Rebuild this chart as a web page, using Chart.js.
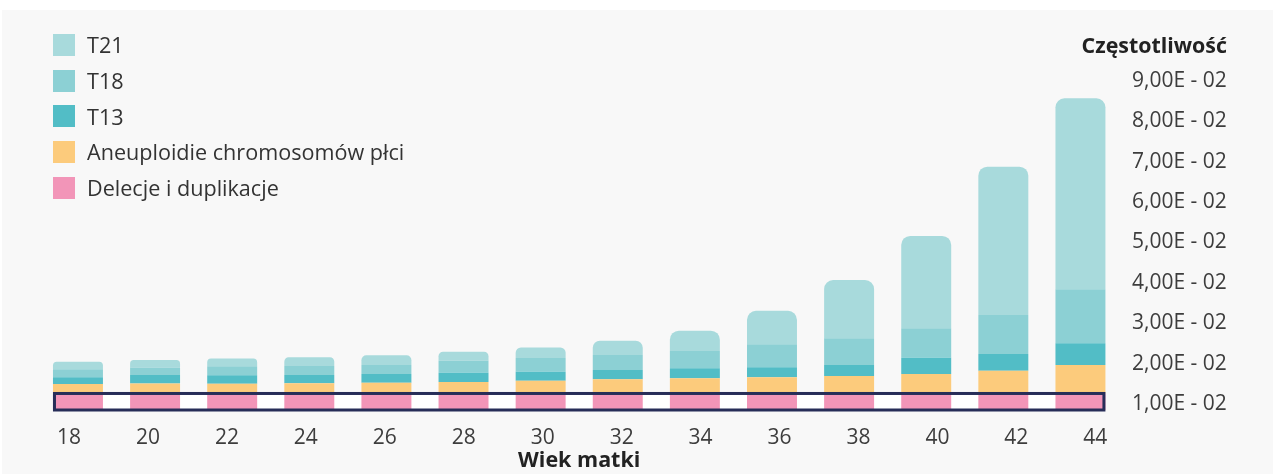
<!DOCTYPE html>
<html lang="pl">
<head>
<meta charset="utf-8">
<title>Częstotliwość a wiek matki</title>
<script src="https://cdn.jsdelivr.net/npm/chart.js@4.4.1/dist/chart.umd.min.js"></script>
<style>
  body { margin: 0; background: #fff; font-family: 'Open Sans', sans-serif; }
  #panel { position: absolute; left: 2px; top: 10px; width: 1271px; height: 464px; background: #f8f8f8; }
  #legend { position: absolute; left: 51px; top: 17px; }
  .item { display: flex; align-items: center; height: 35.7px; font-size: 21.6px; color: #333; }
  .sw { width: 22px; height: 22px; margin-right: 12px; }
  #yTitle { position: absolute; right: 46px; top: 22px; font-size: 21.4px; line-height: 25px; font-weight: bold; color: #222; }
</style>
</head>
<body>
<div id="panel">
  <canvas id="chart" width="1271" height="464"></canvas>
  <div id="legend"></div>
  <div id="yTitle">Częstotliwość</div>
</div>
<script>
// wiek matki
const ages = [18, 20, 22, 24, 26, 28, 30, 32, 34, 36, 38, 40, 42, 44];

// wartosci (segmenty stosu)
const delecje     = [0.0126, 0.0126, 0.0126, 0.0126, 0.0126, 0.0126, 0.0126, 0.0126, 0.0126, 0.0126, 0.0126, 0.0126, 0.0126, 0.0126];
const aneuploidie = [0.00235, 0.00250, 0.00240, 0.00252, 0.00267, 0.00285, 0.00317, 0.00351, 0.00376, 0.00401, 0.00433, 0.00483, 0.00564, 0.00705];
const t13         = [0.00166, 0.00205, 0.00213, 0.00205, 0.00215, 0.00230, 0.00223, 0.00230, 0.00248, 0.00248, 0.00272, 0.00403, 0.00413, 0.00537];
const t18         = [0.00198, 0.00191, 0.00223, 0.00223, 0.00223, 0.00297, 0.00339, 0.00371, 0.00428, 0.00569, 0.00661, 0.00728, 0.00965, 0.01337];
const t21         = [0.00188, 0.00181, 0.00191, 0.00215, 0.00240, 0.00223, 0.00260, 0.00354, 0.00502, 0.00829, 0.01443, 0.02285, 0.03671, 0.04728];

// os Y
const yTicks = [0.01, 0.02, 0.03, 0.04, 0.05, 0.06, 0.07, 0.08, 0.09];
const yTickLabels = ['1,00E - 02', '2,00E - 02', '3,00E - 02', '4,00E - 02', '5,00E - 02',
                     '6,00E - 02', '7,00E - 02', '8,00E - 02', '9,00E - 02'];

const textColor = '#3d3d3d';
const font = { family: "'Open Sans', sans-serif", size: 21 };

// ramka wokol warstwy "Delecje i duplikacje"
function boxRect(chart) {
  const bars = chart.getDatasetMeta(0).data;
  const first = bars[0], last = bars[bars.length - 1];
  return {
    left: first.x - first.width / 2,
    right: last.x + last.width / 2,
    top: first.y,
    bottom: chart.chartArea.bottom
  };
}

const boxPlugin = {
  id: 'delecjeBox',
  beforeDatasetsDraw(chart) {
    const r = boxRect(chart);
    const ctx = chart.ctx;
    ctx.save();
    ctx.fillStyle = '#ffffff';
    ctx.fillRect(r.left, r.top, r.right - r.left, r.bottom - r.top);
    ctx.restore();
  },
  afterDatasetsDraw(chart) {
    const r = boxRect(chart);
    const ctx = chart.ctx;
    ctx.save();
    ctx.strokeStyle = '#272d58';
    ctx.lineWidth = 3;
    ctx.strokeRect(r.left + 1.5, r.top, r.right - r.left - 3, r.bottom - r.top);
    ctx.restore();
  }
};

const ctx = document.getElementById('chart').getContext('2d');
const chart = new Chart(ctx, {
  type: 'bar',
  data: {
    labels: ages.map(String),
    datasets: [
      { label: 'Delecje i duplikacje', data: delecje, backgroundColor: '#f295b8' },
      { label: 'Aneuploidie chromosomów płci', data: aneuploidie, backgroundColor: '#fccb7c' },
      { label: 'T13', data: t13, backgroundColor: '#52bdc6' },
      { label: 'T18', data: t18, backgroundColor: '#8cd0d4' },
      { label: 'T21', data: t21, backgroundColor: '#a8dadc',
        borderRadius: { topLeft: 9, topRight: 9, bottomLeft: 0, bottomRight: 0 }, borderSkipped: false }
    ]
  },
  options: {
    responsive: false,
    animation: false,
    layout: { padding: { left: 37.4, top: 50.6, right: 0, bottom: 0 } },
    datasets: {
      bar: { barPercentage: 0.648, categoryPercentage: 1.0, borderWidth: 0 }
    },
    scales: {
      x: { type: 'category', stacked: true, display: false },
      x2: {
        type: 'linear',
        position: 'bottom',
        offset: false,
        min: 17.25,
        max: 44.6,
        grid: { display: false, drawTicks: false, offset: false },
        border: { display: false },
        afterBuildTicks: s => { s.ticks = ages.map(v => ({ value: v })); },
        afterFit: s => { s.height = 64; },
        ticks: { autoSkip: false, maxRotation: 0, padding: 15.4, color: textColor, font: font },
        title: {
          display: true,
          text: 'Wiek matki',
          color: '#222',
          font: { family: font.family, size: 21.5, weight: 'bold' },
          padding: { top: 0, bottom: 0 }
        }
      },
      y: {
        type: 'linear',
        position: 'right',
        stacked: true,
        min: 0.00851,
        max: 0.095,
        grid: { display: false, drawTicks: false },
        border: { display: false },
        afterBuildTicks: s => { s.ticks = yTicks.map(v => ({ value: v })); },
        afterFit: s => { s.width = 154; },
        ticks: {
          autoSkip: false,
          padding: 13,
          color: textColor,
          font: font,
          callback: (v, i) => yTickLabels[i]
        }
      }
    },
    plugins: {
      legend: { display: false },
      tooltip: { enabled: false }
    }
  },
  plugins: [boxPlugin]
});

// legenda (od gory: T21 ... Delecje)
const legendEl = document.getElementById('legend');
chart.data.datasets.slice().reverse().forEach(ds => {
  const item = document.createElement('div');
  item.className = 'item';
  item.innerHTML = '<span class="sw" style="background:' + ds.backgroundColor + '"></span><span>' + ds.label + '</span>';
  legendEl.appendChild(item);
});
</script>
</body>
</html>
